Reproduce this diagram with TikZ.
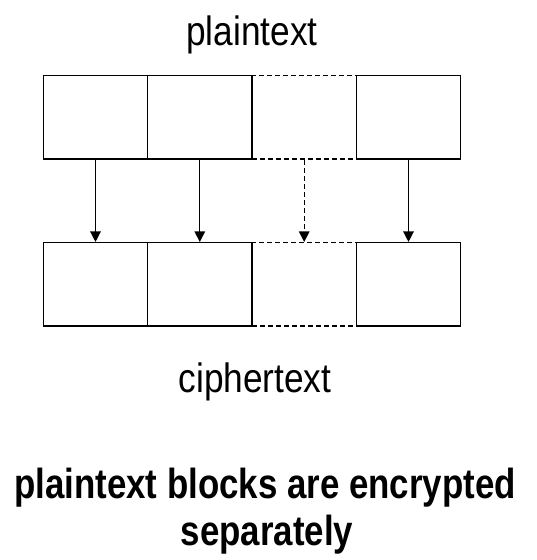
\documentclass[tikz,border=0pt]{standalone}
\usepackage{fontspec}
\usetikzlibrary{arrows.meta}
\newfontfamily\labelfont{Liberation Sans}[FakeStretch=0.86]
\newfontfamily\captionfont{Liberation Sans}[FakeStretch=0.83]
\tikzset{
  blockbox/.style={draw=black, fill=white, line width=1.5pt,
    minimum width=104.35pt, minimum height=83.3pt, inner sep=0pt},
  missingbox/.style={blockbox, dash pattern=on 5pt off 3pt},
  flow/.style={draw=black, line width=1.3pt,
    -{Triangle[length=10.5pt,width=10.5pt]}},
  missingflow/.style={flow, dash pattern=on 5pt off 3pt},
  rowlabel/.style={anchor=base, inner sep=0pt,
    font=\labelfont\fontsize{41}{41}\selectfont},
  captionline/.style={anchor=base, inner sep=0pt,
    font=\captionfont\bfseries\fontsize{42}{42}\selectfont}
}
\begin{document}
\begin{tikzpicture}[x=1pt, y=-1pt]
  \useasboundingbox (0,0) rectangle (536,560);

  % dashed blocks first, so the solid neighbours draw over shared edges
  \node[missingbox] (p3) at (304.2,117.35) {};
  \node[missingbox] (c3) at (304.2,284.35) {};

  \node[blockbox] (p1) at (95.5,117.35) {};
  \node[blockbox] (p2) at (199.8,117.35) {};
  \node[blockbox] (p4) at (408.5,117.35) {};

  \node[blockbox] (c1) at (95.5,284.35) {};
  \node[blockbox] (c2) at (199.8,284.35) {};
  \node[blockbox] (c4) at (408.5,284.35) {};

  \draw[flow] (p1.south) -- (c1.north);
  \draw[flow] (p2.south) -- (c2.north);
  \draw[missingflow] (p3.south) -- (c3.north);
  \draw[flow] (p4.south) -- (c4.north);

  \node[rowlabel] (ptlabel) at (252,45) {plaintext};
  \node[rowlabel] (ctlabel) at (255,392.7) {ciphertext};

  \node[captionline] (cap1) at (265,498.3) {plaintext blocks are encrypted};
  \node[captionline] (cap2) at (267,545) {separately};
\end{tikzpicture}
\end{document}
